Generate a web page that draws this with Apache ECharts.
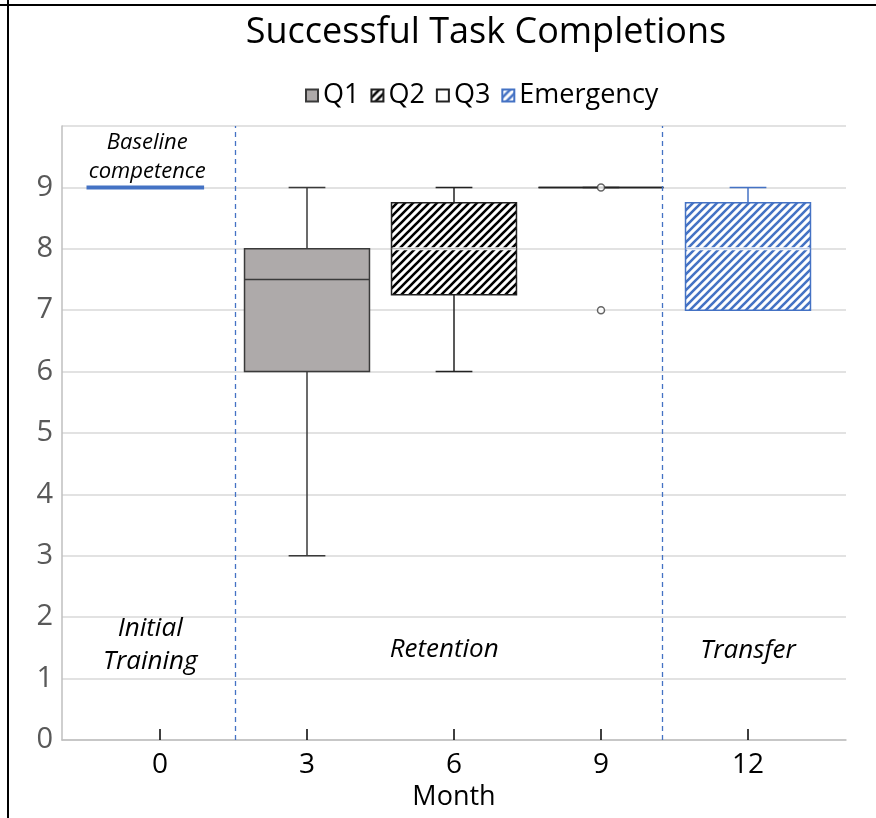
<!DOCTYPE html>
<html><head><meta charset="utf-8">
<script src="https://cdn.jsdelivr.net/npm/echarts@6/dist/echarts.min.js"></script>
<style>html,body{margin:0;padding:0;background:#fff}#c{width:876px;height:818px}</style>
</head><body><div id="c"></div>
<script>
// ---- data ----
const monthTicks = [0, 3, 6, 9, 12];
const seriesNames = ['Q1', 'Q2', 'Q3', 'Emergency'];
const boxMonths = [3, 6, 9, 12];
// [min, q1, median, q3, max]
const q1Stats = [3, 6, 7.5, 8, 9];
const q2Stats = [6, 7.25, 8, 8.75, 9];
const q3Stats = [9, 9, 9, 9, 9];
const emergencyStats = [7, 7, 8, 8.75, 9];
const q3PointValues = [9, 7];
const baselineLevel = 9;
const baselineSpan = [-1.5, 0.9];
const phaseBoundaries = [1.54, 10.25];
const noteTexts = ['Baseline\ncompetence', 'Initial\nTraining', 'Retention', 'Transfer'];
const noteX = [-0.26, -0.2, 5.8, 12];
const noteY = [9.49, 1.55, 1.48, 1.45];

// ---- styles ----
const BLUE = '#4472C4';
function hatch(color) {
  const c = document.createElement('canvas');
  c.width = 8; c.height = 8;
  const g = c.getContext('2d');
  g.fillStyle = '#fff'; g.fillRect(0, 0, 8, 8);
  g.strokeStyle = color; g.lineWidth = 2.6;
  g.beginPath();
  g.moveTo(-2, 10); g.lineTo(10, -2);
  g.moveTo(-2, 2); g.lineTo(2, -2);
  g.moveTo(6, 10); g.lineTo(10, 6);
  g.stroke();
  return { image: c, repeat: 'repeat' };
}
const styles = {
  'Q1': { fill: '#AEAAAA', stroke: '#3a3a3a', median: '#3a3a3a', medianW: 1.5 },
  'Q2': { fill: hatch('#000'), stroke: '#222', median: '#999', medianW: 1 },
  'Q3': { fill: '#ffffff', stroke: '#222', median: '#222', medianW: 1.5 },
  'Emergency': { fill: hatch(BLUE), stroke: BLUE, median: '#9fb3d8', medianW: 1 }
};
const BOX_W = 2.55, CAP_W = 0.75;
const FONT = '"Open Sans"';

function boxSeries(name, month, stats) {
  const st = styles[name];
  return {
    name: name, type: 'custom', z: 3,
    itemStyle: { color: st.fill, borderColor: st.stroke, borderWidth: 1 },
    data: [[month].concat(stats)],
    renderItem: function (params, api) {
      const x = api.value(0);
      const mn = api.value(1), q1 = api.value(2), md = api.value(3), q3 = api.value(4), mx = api.value(5);
      const half = api.size([BOX_W, 0])[0] / 2;
      const cap = api.size([CAP_W, 0])[0] / 2;
      const c = api.coord([x, 0])[0];
      const y = v => api.coord([x, v])[1];
      const ls = { stroke: st.stroke, lineWidth: 1.5 };
      const ch = [];
      if (mx > q3) {
        ch.push({ type: 'line', shape: { x1: c, y1: y(mx), x2: c, y2: y(q3) }, style: ls });
      }
      ch.push({ type: 'line', shape: { x1: c - cap, y1: y(mx), x2: c + cap, y2: y(mx) }, style: ls });
      if (mn < q1) {
        ch.push({ type: 'line', shape: { x1: c, y1: y(q1), x2: c, y2: y(mn) }, style: ls });
        ch.push({ type: 'line', shape: { x1: c - cap, y1: y(mn), x2: c + cap, y2: y(mn) }, style: ls });
      }
      ch.push({ type: 'rect', shape: { x: c - half, y: y(q3), width: half * 2, height: y(q1) - y(q3) },
        style: { fill: st.fill, stroke: st.stroke, lineWidth: 1.5 } });
      if (md > q1 && md < q3 && st.median !== st.stroke) {
        ch.push({ type: 'line', shape: { x1: c - half + 1, y1: y(md), x2: c + half - 1, y2: y(md) }, style: { stroke: '#fff', lineWidth: 3 } });
      }
      ch.push({ type: 'line', shape: { x1: c - half, y1: y(md), x2: c + half, y2: y(md) }, style: { stroke: st.median, lineWidth: st.medianW } });
      return { type: 'group', children: ch };
    }
  };
}

const sepStyle = { color: BLUE, width: 1.3, type: [5, 4] };
const chart = echarts.init(document.getElementById('c'), null, { renderer: 'canvas' });
const option = {
  animation: false,
  backgroundColor: '#fff',
  title: {
    text: 'Successful Task Completions', left: 481, top: 10, textAlign: 'center',
    textStyle: { fontFamily: FONT, fontSize: 36, fontWeight: 'normal', color: '#000' }
  },
  legend: {
    data: seriesNames, left: 300, top: 77, icon: 'rect', itemWidth: 12, itemHeight: 12, itemGap: 11,
    textStyle: { fontFamily: FONT, fontSize: 27, color: '#000' }
  },
  grid: { left: 62, right: 30, top: 126, bottom: 78 },
  xAxis: {
    type: 'value', min: -2, max: 14,
    name: 'Month', nameLocation: 'middle', nameGap: 42,
    nameTextStyle: { fontFamily: FONT, fontSize: 27, color: '#000' },
    axisLine: { show: true, lineStyle: { color: '#bfbfbf', width: 1.5 } },
    axisTick: { show: true, inside: true, length: 11, customValues: monthTicks, lineStyle: { color: '#000', width: 1.5 } },
    axisLabel: { customValues: monthTicks, fontFamily: FONT, fontSize: 28, color: '#000', margin: 11 },
    splitLine: { show: false }
  },
  yAxis: {
    type: 'value', min: 0, max: 10, interval: 1,
    axisLine: { show: true, onZero: false, lineStyle: { color: '#bfbfbf', width: 1.5 } },
    axisTick: { show: false },
    axisLabel: { fontFamily: FONT, fontSize: 29, color: '#595959', margin: 9, formatter: v => (v === 10 ? '' : String(v)) },
    splitLine: { show: true, lineStyle: { color: '#d9d9d9', width: 1.5 } }
  },
  graphic: [
    { type: 'line', shape: { x1: 8, y1: 0, x2: 8, y2: 818 }, style: { stroke: '#000', lineWidth: 2 }, z: 100 },
    { type: 'line', shape: { x1: 0, y1: 5, x2: 876, y2: 5 }, style: { stroke: '#000', lineWidth: 2 }, z: 100 }
  ],
  series: [
    {
      name: 'Baseline', type: 'line', symbol: 'none', z: 2, silent: true,
      data: [[baselineSpan[0], baselineLevel], [baselineSpan[1], baselineLevel]],
      lineStyle: { color: BLUE, width: 4 },
      markLine: {
        silent: true, symbol: ['none', 'none'], label: { show: false },
        lineStyle: sepStyle,
        data: phaseBoundaries.map(v => ({ xAxis: v, lineStyle: sepStyle }))
      }
    },
    boxSeries('Q1', boxMonths[0], q1Stats),
    boxSeries('Q2', boxMonths[1], q2Stats),
    boxSeries('Q3', boxMonths[2], q3Stats),
    boxSeries('Emergency', boxMonths[3], emergencyStats),
    {
      name: 'Q3 points', type: 'scatter', z: 5, symbol: 'circle', symbolSize: 7,
      itemStyle: { color: '#fff', borderColor: '#404040', borderWidth: 1.5 },
      data: q3PointValues.map(v => [boxMonths[2], v])
    },
    {
      name: 'Notes', type: 'custom', z: 6, silent: true,
      data: noteX.map((x, i) => [x, noteY[i]]),
      renderItem: function (params, api) {
        const p = api.coord([api.value(0), api.value(1)]);
        const i = params.dataIndex;
        const small = i === 0;
        return {
          type: 'text', x: p[0], y: p[1],
          style: {
            text: noteTexts[i], textAlign: 'center', textVerticalAlign: 'middle',
            font: 'italic ' + (small ? 22 : 26) + 'px ' + FONT,
            lineHeight: small ? 29 : 33, fill: '#000'
          }
        };
      }
    }
  ]
};
chart.setOption(option);
</script></body></html>
